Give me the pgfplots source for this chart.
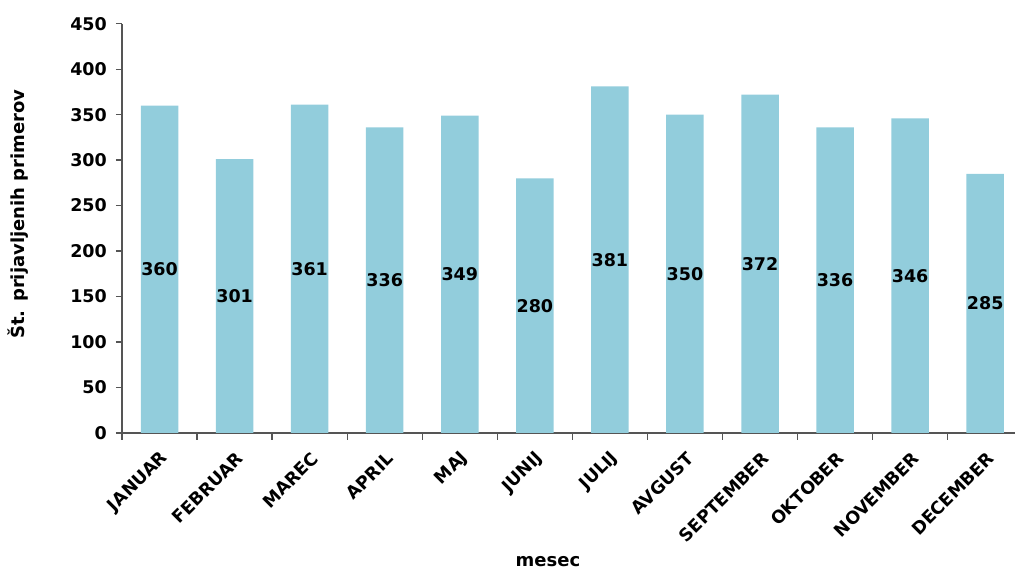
\documentclass[border=0pt]{standalone}
\usepackage{pgfplots}
\pgfplotsset{compat=1.18}
\usepackage{pgfplotstable}
\usepackage{fontspec}
\setmainfont{DejaVu Sans}

\definecolor{barblue}{RGB}{146,205,220}
\definecolor{axisgray}{RGB}{85,85,85}

% monthly number of reported cases
\pgfplotstableread{
idx value
0  360
1  301
2  361
3  336
4  349
5  280
6  381
7  350
8  372
9  336
10 346
11 285
}\cases

\begin{document}
\begin{tikzpicture}
\useasboundingbox (0,0) rectangle (1015pt,569pt);
\begin{axis}[
  at={(122pt,136pt)}, anchor=south west,
  scale only axis, width=893pt, height=409.3pt,
  xmin=-0.5, xmax=11.397, ymin=0, ymax=450,
  axis x line=bottom, axis y line=left,
  axis line style={-, draw=axisgray, line width=1.3pt},
  ytick={0,50,...,450},
  xtick={0,...,11},
  xticklabels={JANUAR,FEBRUAR,MAREC,APRIL,MAJ,JUNIJ,JULIJ,AVGUST,SEPTEMBER,OKTOBER,NOVEMBER,DECEMBER},
  minor xtick={-0.5,0.5,...,10.5},
  major x tick style={draw=none},
  tick align=outside,
  major tick length=6pt, minor tick length=7pt,
  tick style={draw=axisgray, line width=1.3pt},
  /pgf/number format/assume math mode=true,
  tick label style={font=\bfseries\fontsize{17.5}{20}\selectfont},
  xticklabel style={rotate=45, anchor=east, inner sep=2pt, xshift=-5.7pt, yshift=-15.5pt},
  yticklabel style={inner sep=2pt, xshift=-7pt},
  xlabel={mesec},
  ylabel={Št. prijavljenih primerov},
  label style={font=\bfseries\fontsize{18}{20}\selectfont},
  xlabel style={at={(axis description cs:0.477,-0.313)}, anchor=center},
  ylabel style={at={(axis description cs:-0.1165,0.535)}, anchor=center, rotate=0},
  clip=false,
]
\addplot[ybar, bar width=0.5, fill=barblue, draw=none] table[x=idx, y=value] {\cases};
% value labels at half the bar height
\addplot[only marks, mark=none, draw=none,
  nodes near coords, point meta=explicit,
  every node near coord/.style={anchor=center, font=\bfseries\fontsize{17.5}{20}\selectfont, text=black}]
  table[x=idx, y expr=\thisrow{value}/2, meta=value] {\cases};
\end{axis}
\end{tikzpicture}
\end{document}
